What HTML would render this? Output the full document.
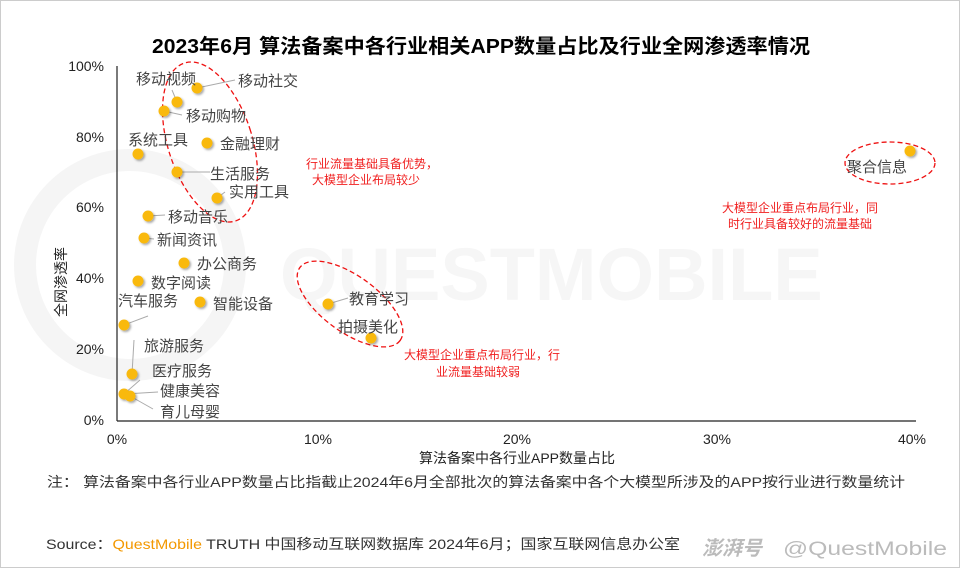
<!DOCTYPE html>
<html><head><meta charset="utf-8"><style>
html,body{margin:0;padding:0;background:#fff}
body{width:960px;height:568px;overflow:hidden;font-family:"Liberation Sans","Noto Sans CJK SC",sans-serif}
</style></head><body>
<svg width="960" height="568" viewBox="0 0 960 568" xmlns="http://www.w3.org/2000/svg" font-family="Liberation Sans, Noto Sans CJK SC, sans-serif">
<defs><filter id="sh" x="-50%" y="-50%" width="200%" height="200%"><feDropShadow dx="1.5" dy="1.5" stdDeviation="1" flood-color="#000" flood-opacity="0.35"/></filter></defs>
<rect x="0.5" y="0.5" width="959" height="567" fill="#fff" stroke="#ccc"/>
<g fill="none" stroke="#f5f5f5" stroke-width="22"><circle cx="130" cy="265" r="105"/></g>
<text x="280" y="300" font-size="74" fill="#f6f6f6" font-weight="bold">QUESTMOBILE</text>
<text x="152" y="53" font-size="20" font-weight="bold" fill="#000" textLength="658" lengthAdjust="spacingAndGlyphs">2023年6月 算法备案中各行业相关APP数量占比及行业全网渗透率情况</text>
<line x1="117" y1="66" x2="117" y2="421" stroke="#222" stroke-width="1.2"/>
<line x1="117" y1="421" x2="916" y2="421" stroke="#222" stroke-width="1.2"/>
<g font-size="14" fill="#222" text-anchor="end">
<text x="104" y="71">100%</text><text x="104" y="142">80%</text><text x="104" y="212">60%</text><text x="104" y="283">40%</text><text x="104" y="354">20%</text><text x="104" y="425">0%</text></g>
<g font-size="14" fill="#222" text-anchor="middle">
<text x="117" y="444">0%</text><text x="318" y="444">10%</text><text x="517" y="444">20%</text><text x="717" y="444">30%</text><text x="912" y="444">40%</text></g>
<text x="517" y="463" text-anchor="middle" font-size="14" fill="#222">算法备案中各行业APP数量占比</text>
<text transform="translate(66,282) rotate(-90)" text-anchor="middle" font-size="14" fill="#222">全网渗透率</text>
<g fill="none" stroke="#e11" stroke-width="1.3" stroke-dasharray="5,3">
<ellipse cx="210" cy="142" rx="42" ry="83" transform="rotate(-18 210 142)"/>
<ellipse cx="350" cy="304" rx="62" ry="28" transform="rotate(36 350 304)"/>
<ellipse cx="890" cy="163" rx="45" ry="21"/>
</g>
<g stroke="#aaa" stroke-width="1" fill="none">
<path d="M197 88 L235 80"/><path d="M177 102 L172 90"/><path d="M164 111 L182 115"/>
<path d="M177 172 L210 172"/><path d="M217 198 L225 192"/><path d="M148 216 L165 215"/>
<path d="M144 238 L154 239"/><path d="M124 325 L148 316"/><path d="M132 374 L134 340"/>
<path d="M124 394 L140 380"/><path d="M124 394 L158 392"/><path d="M130 396 L153 409"/>
<path d="M328 304 L348 298"/>
</g>
<g fill="#F9B90F" filter="url(#sh)">
<circle cx="197" cy="88" r="5.5"/><circle cx="177" cy="102" r="5.5"/><circle cx="164" cy="111" r="5.5"/>
<circle cx="138" cy="154" r="5.5"/><circle cx="207" cy="143" r="5.5"/><circle cx="177" cy="172" r="5.5"/>
<circle cx="217" cy="198" r="5.5"/><circle cx="148" cy="216" r="5.5"/><circle cx="144" cy="238" r="5.5"/>
<circle cx="184" cy="263" r="5.5"/><circle cx="138" cy="281" r="5.5"/><circle cx="200" cy="302" r="5.5"/>
<circle cx="124" cy="325" r="5.5"/><circle cx="132" cy="374" r="5.5"/><circle cx="124" cy="394" r="5.5"/>
<circle cx="130" cy="396" r="5.5"/><circle cx="328" cy="304" r="5.5"/><circle cx="371" cy="338" r="5.5"/>
<circle cx="910" cy="151" r="5.5"/>
</g>
<g font-size="15" fill="#444">
<text x="136" y="84">移动视频</text><text x="238" y="86">移动社交</text><text x="186" y="121">移动购物</text>
<text x="128" y="145">系统工具</text><text x="220" y="149">金融理财</text><text x="210" y="179">生活服务</text>
<text x="229" y="197">实用工具</text><text x="168" y="222">移动音乐</text><text x="157" y="245">新闻资讯</text>
<text x="197" y="269">办公商务</text><text x="151" y="288">数字阅读</text><text x="213" y="309">智能设备</text>
<text x="118" y="306">汽车服务</text><text x="144" y="351">旅游服务</text><text x="152" y="376">医疗服务</text>
<text x="160" y="396">健康美容</text><text x="160" y="417">育儿母婴</text>
<text x="349" y="304">教育学习</text><text x="338" y="332">拍摄美化</text><text x="847" y="172">聚合信息</text>
</g>
<g font-size="12" fill="#f02020" text-anchor="middle">
<text x="372" y="168">行业流量基础具备优势，</text><text x="366" y="184">大模型企业布局较少</text>
<text x="800" y="212">大模型企业重点布局行业，同</text><text x="800" y="228">时行业具备较好的流量基础</text>
<text x="482" y="359">大模型企业重点布局行业，行</text><text x="478" y="376">业流量基础较弱</text>
</g>
<text x="47" y="487" font-size="14" fill="#333" textLength="858" lengthAdjust="spacingAndGlyphs">注：  算法备案中各行业APP数量占比指截止2024年6月全部批次的算法备案中各个大模型所涉及的APP按行业进行数量统计</text>
<text x="46" y="549" font-size="14" fill="#333" textLength="634" lengthAdjust="spacingAndGlyphs">Source：<tspan fill="#F39800">QuestMobile</tspan> TRUTH 中国移动互联网数据库 2024年6月；国家互联网信息办公室</text>
<text x="702" y="555" font-size="20" fill="#bbb" font-style="italic" font-weight="bold">澎湃号</text>
<text x="783" y="555" font-size="19" fill="#bbb" textLength="164" lengthAdjust="spacingAndGlyphs">@QuestMobile</text>
</svg>
</body></html>
